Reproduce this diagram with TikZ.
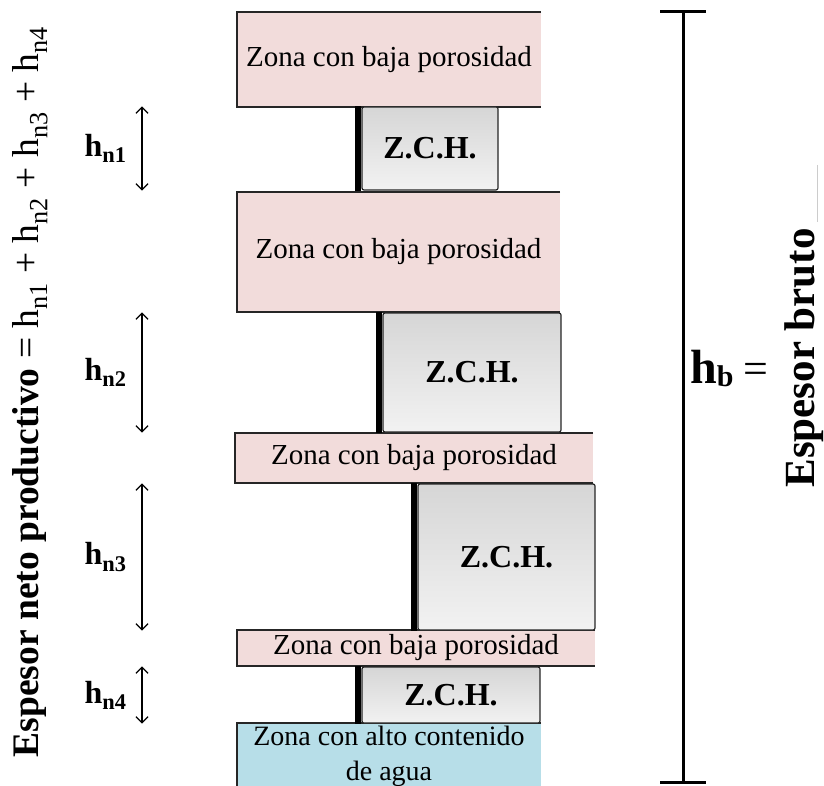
\documentclass[tikz,border=0pt]{standalone}
\usepackage{fontspec}
\setmainfont{Liberation Serif}
\usepackage{tikz}
\usetikzlibrary{positioning,arrows.meta}
\definecolor{rosa}{HTML}{F2DCDB}
\definecolor{celeste}{HTML}{B7DEE8}
\definecolor{grisalto}{HTML}{D6D6D6}
\definecolor{grisbajo}{HTML}{F2F2F2}
\tikzset{
  baja/.style={fill=rosa,inner sep=0pt,font=\fontsize{29}{31}\selectfont},
  agua/.style={fill=celeste,inner sep=0pt,align=center,font=\fontsize{28}{35}\selectfont},
  zch/.style={draw=black!85,line width=1.2pt,rounded corners=2pt,top color=grisalto,
    bottom color=grisbajo,inner sep=0pt,font=\bfseries\fontsize{32}{34}\selectfont},
  borde/.style={draw=black!85,line width=1.5pt},
  muro/.style={line width=6pt},
  espesor/.style={font=\bfseries\fontsize{32}{34}\selectfont}
}
\begin{document}
\begin{tikzpicture}[x=1pt,y=-1pt,>={Straight Barb[length=6pt,width=12pt]}]
  \useasboundingbox (0,0) rectangle (824,786);
  \node[baja,minimum width=304,minimum height=95] (z1) at (389,59.5) {Zona con baja porosidad};
  \node[baja,minimum width=323,minimum height=120] (z2) at (398.5,252) {Zona con baja porosidad};
  \node[baja,minimum width=358,minimum height=50] (z3) at (414,458) {Zona con baja porosidad};
  \node[baja,minimum width=358,minimum height=36] (z4) at (416,648) {Zona con baja porosidad};
  \node[agua,minimum width=304,minimum height=67] (ag) at (389,756.5) {Zona con alto contenido\\de agua};
  \foreach \z in {z1,z2,z3,z4,ag}
    \draw[borde] (\z.north east) -- (\z.north west) -- (\z.south west) -- (\z.south east);
  \node[zch,minimum width=136,minimum height=83] (c1) at (430,148.5) {Z.C.H.};
  \node[zch,minimum width=178,minimum height=119] (c2) at (472,372.5) {Z.C.H.};
  \node[zch,minimum width=177,minimum height=146] (c3) at (506.5,557) {Z.C.H.};
  \node[zch,minimum width=178,minimum height=56] (c4) at (451,695) {Z.C.H.};
  \coordinate (flecha) at (142,0);
  \foreach \c/\n in {c1/1,c2/2,c3/3,c4/4} {
    \draw[muro] ([xshift=-3pt]\c.north west) -- ([xshift=-3pt]\c.south west);
    \draw[<->,line width=1.3pt] (\c.north -| flecha) -- (\c.south -| flecha);
    \node[espesor,left=12pt of \c.west -| flecha] (h\n) {h\textsubscript{n\n}};
  }
  \node[rotate=90,font=\fontsize{37.5}{39}\selectfont] (neto) at (30,392)
    {\textbf{Espesor neto productivo} = h\textsubscript{n1} + h\textsubscript{n2} + h\textsubscript{n3} + h\textsubscript{n4}};
  \coordinate (btop) at (683,12);
  \coordinate (bbot) at (683,782);
  \draw[line width=3pt] (btop) -- (bbot);
  \draw[line width=3pt] ([xshift=-23pt]btop) -- ([xshift=23pt]btop);
  \draw[line width=3pt] ([xshift=-23pt]bbot) -- ([xshift=23pt]bbot);
  \node[anchor=base west,font=\fontsize{48}{50}\selectfont,inner sep=0pt] (hb) at (690,383)
    {\textbf{h\raisebox{-3pt}{\fontsize{30}{32}\selectfont b}}\hspace{10pt}{\fontsize{44}{46}\selectfont =}};
  \node[rotate=90,font=\bfseries\fontsize{43}{45}\selectfont] (bruto) at (804,358) {Espesor bruto};
  \draw[black!20,line width=0.6pt] (817,165) -- (817,222);
\end{tikzpicture}
\end{document}
